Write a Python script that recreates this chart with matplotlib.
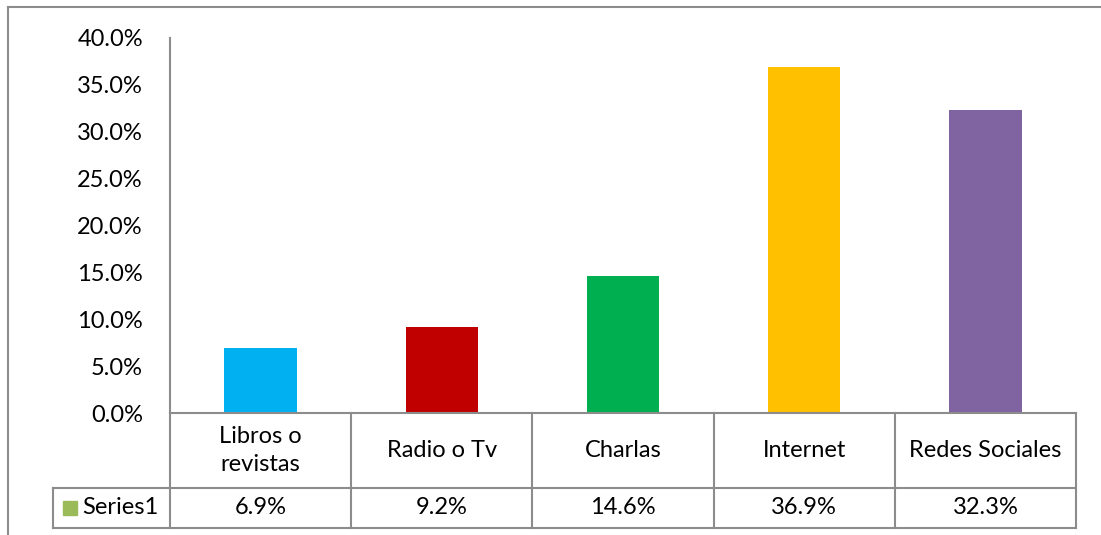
import matplotlib.pyplot as plt
from matplotlib.lines import Line2D
from matplotlib.patches import Rectangle
from matplotlib.ticker import FuncFormatter

categories = ['Libros o\nrevistas', 'Radio o Tv', 'Charlas', 'Internet', 'Redes Sociales']
values = [0.069, 0.092, 0.146, 0.369, 0.323]
value_labels = ['6.9%', '9.2%', '14.6%', '36.9%', '32.3%']
bar_colors = ['#00B0F0', '#C00000', '#00B050', '#FFC000', '#8064A2']
series_name = 'Series1'
series_color = '#9BBB59'
y_ticks = [0, 0.05, 0.10, 0.15, 0.20, 0.25, 0.30, 0.35, 0.40]

plt.rcParams['font.family'] = ['Lato', 'DejaVu Sans']
W, H = 1101, 535
grid_col = '#8C8C8C'
fs = 17

fig = plt.figure(figsize=(W / 100, H / 100), dpi=100)

# plot area in pixels: x 170..1076, y 38..413
ax = fig.add_axes([170 / W, (H - 413) / H, (1076 - 170) / W, (413 - 38) / H])
x = list(range(len(categories)))
ax.bar(x, values, width=0.4, color=bar_colors)
ax.set_xlim(-0.5, len(categories) - 0.5)
ax.set_ylim(0, 0.40)
ax.set_yticks(y_ticks)
ax.yaxis.set_major_formatter(FuncFormatter(lambda v, p: f'{v * 100:.1f}%'))
ax.tick_params(axis='y', length=0, pad=19.5, labelsize=fs)
ax.set_xticks([])
for s in ['top', 'right']:
    ax.spines[s].set_visible(False)
for s in ['left', 'bottom']:
    ax.spines[s].set_color(grid_col)
    ax.spines[s].set_linewidth(1.5)

# data table under the axis
tr = ax.get_xaxis_transform()
ax_h = 413 - 38
row1 = -(488 - 413) / ax_h
row2 = -(528 - 413) / ax_h
legend_left = -0.5 - (170 - 53) / ((1076 - 170) / len(categories))
n = len(categories)

def seg(x0, x1, y0, y1):
    ax.add_line(Line2D([x0, x1], [y0, y1], transform=tr, color=grid_col,
                       lw=1.5, clip_on=False))

for i in range(n + 1):
    seg(i - 0.5, i - 0.5, 0, row2)
seg(legend_left, legend_left, row1, row2)
seg(legend_left, n - 0.5, row1, row1)
seg(legend_left, n - 0.5, row2, row2)

for i, (c, v) in enumerate(zip(categories, value_labels)):
    ax.text(i, row1 / 2, c, transform=tr, ha='center', va='center',
            fontsize=fs, linespacing=1.45)
    ax.text(i, (row1 + row2) / 2, v, transform=tr, ha='center', va='center',
            fontsize=fs)

# legend key in the first cell
fig.patches.append(Rectangle((63 / W, (H - 515) / H), 14 / W, 14 / H,
                             transform=fig.transFigure, color=series_color))
fig.text(82 / W, (H - 508) / H, series_name, ha='left', va='center', fontsize=fs)

# chart area border (left and top only visible)
fig.add_artist(Line2D([8 / W, 8 / W], [0, (H - 7) / H], color=grid_col, lw=1.5))
fig.add_artist(Line2D([8 / W, 1], [(H - 7) / H, (H - 7) / H], color=grid_col, lw=1.5))

fig.savefig('out.png', dpi=100)
